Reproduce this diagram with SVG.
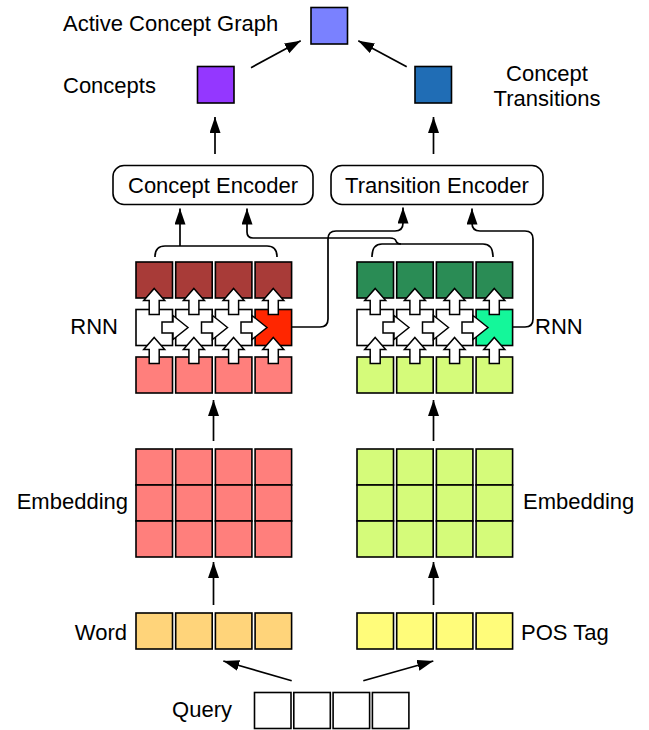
<svg xmlns="http://www.w3.org/2000/svg" xmlns:xlink="http://www.w3.org/1999/xlink" width="649" height="730" viewBox="0 0 649 730">
<style>
text{font-family:"Liberation Sans",Arial,sans-serif;font-size:22px;fill:#000}
.c{stroke:#000;stroke-width:1.6}
.enc{fill:#fff;stroke:#000;stroke-width:1.6}
.ln{fill:none;stroke:#000;stroke-width:1.7}
.blk{fill:#fff;stroke:#000;stroke-width:1.5;stroke-linejoin:miter}
.dr{fill:#A83B38}.sal{fill:#FF7F7C}.red{fill:#FF2600}
.dg{fill:#2A8C55}.lg{fill:#D5FB7A}.sg{fill:#14F79A}
.wd{fill:#FFD47A}.pos{fill:#FFFC7A}.wh{fill:#fff}
.acg{fill:#7A81FF}.cpt{fill:#9437FF}.trn{fill:#206DB5}
</style>
<defs>
<marker id="ah" markerUnits="userSpaceOnUse" markerWidth="17" markerHeight="12" refX="16" refY="5.5" orient="auto">
<path d="M0,0 L16,5.5 L0,11 Z" fill="#000"/>
</marker>
<path id="up" class="blk" d="M0,0 L10.5,12 L5,12 L5,26 L-5,26 L-5,12 L-10.5,12 Z"/>
<path id="rt" class="blk" d="M0,0 L-15,-12 L-15,-5.5 L-26,-5.5 L-26,5.5 L-15,5.5 L-15,12 Z"/>
</defs>

<!-- top outputs -->
<g id="acg"><rect class="c acg" x="311" y="7.5" width="36.5" height="36.5"/><text x="63" y="31">Active Concept Graph</text></g>
<g id="concepts"><rect class="c cpt" x="197.5" y="66.5" width="36.5" height="36.5"/><text x="63" y="93">Concepts</text></g>
<g id="transitions"><rect class="c trn" x="415" y="66.5" width="36.5" height="36.5"/><text x="547" y="81" text-anchor="middle">Concept</text><text x="547" y="106" text-anchor="middle">Transitions</text></g>

<!-- encoders -->
<g id="concept-encoder"><rect class="enc" x="113" y="165.5" width="200" height="39" rx="11"/><text x="213" y="193" text-anchor="middle">Concept Encoder</text></g>
<g id="transition-encoder"><rect class="enc" x="331" y="165.5" width="212" height="39" rx="11"/><text x="437" y="193" text-anchor="middle">Transition Encoder</text></g>

<!-- left RNN -->
<g id="rnn-left">
<rect class="c dr" x="136" y="262" width="36.5" height="36"/>
<rect class="c dr" x="175.7" y="262" width="36.5" height="36"/>
<rect class="c dr" x="215.4" y="262" width="36.5" height="36"/>
<rect class="c dr" x="255.1" y="262" width="36.5" height="36"/>
<rect class="c wh" x="136" y="309.5" width="36.5" height="36"/>
<rect class="c wh" x="175.7" y="309.5" width="36.5" height="36"/>
<rect class="c wh" x="215.4" y="309.5" width="36.5" height="36"/>
<rect class="c red" x="255.1" y="309.5" width="36.5" height="36"/>
<rect class="c sal" x="136" y="357" width="36.5" height="36"/>
<rect class="c sal" x="175.7" y="357" width="36.5" height="36"/>
<rect class="c sal" x="215.4" y="357" width="36.5" height="36"/>
<rect class="c sal" x="255.1" y="357" width="36.5" height="36"/>
<use href="#up" x="154.2" y="288.5"/><use href="#up" x="193.9" y="288.5"/><use href="#up" x="233.6" y="288.5"/><use href="#up" x="273.3" y="288.5"/>
<use href="#up" x="154.2" y="337.5"/><use href="#up" x="193.9" y="337.5"/><use href="#up" x="233.6" y="337.5"/><use href="#up" x="273.3" y="337.5"/>
<use href="#rt" x="188" y="327.5"/><use href="#rt" x="227.5" y="327.5"/><use href="#rt" x="267" y="327.5"/>
<text x="118" y="334" text-anchor="end">RNN</text>
</g>

<!-- right RNN -->
<g id="rnn-right">
<rect class="c dg" x="357" y="262" width="36.5" height="36"/>
<rect class="c dg" x="396.7" y="262" width="36.5" height="36"/>
<rect class="c dg" x="436.4" y="262" width="36.5" height="36"/>
<rect class="c dg" x="476.1" y="262" width="36.5" height="36"/>
<rect class="c wh" x="357" y="309.5" width="36.5" height="36"/>
<rect class="c wh" x="396.7" y="309.5" width="36.5" height="36"/>
<rect class="c wh" x="436.4" y="309.5" width="36.5" height="36"/>
<rect class="c sg" x="476.1" y="309.5" width="36.5" height="36"/>
<rect class="c lg" x="357" y="357" width="36.5" height="36"/>
<rect class="c lg" x="396.7" y="357" width="36.5" height="36"/>
<rect class="c lg" x="436.4" y="357" width="36.5" height="36"/>
<rect class="c lg" x="476.1" y="357" width="36.5" height="36"/>
<use href="#up" x="375.2" y="288.5"/><use href="#up" x="414.9" y="288.5"/><use href="#up" x="454.6" y="288.5"/><use href="#up" x="494.3" y="288.5"/>
<use href="#up" x="375.2" y="337.5"/><use href="#up" x="414.9" y="337.5"/><use href="#up" x="454.6" y="337.5"/><use href="#up" x="494.3" y="337.5"/>
<use href="#rt" x="409" y="327.5"/><use href="#rt" x="448.5" y="327.5"/><use href="#rt" x="488" y="327.5"/>
<text x="535" y="334">RNN</text>
</g>

<!-- embeddings -->
<g id="embedding-left">
<rect class="c sal" x="136" y="449" width="36.5" height="36"/><rect class="c sal" x="175.7" y="449" width="36.5" height="36"/><rect class="c sal" x="215.4" y="449" width="36.5" height="36"/><rect class="c sal" x="255.1" y="449" width="36.5" height="36"/>
<rect class="c sal" x="136" y="485" width="36.5" height="36"/><rect class="c sal" x="175.7" y="485" width="36.5" height="36"/><rect class="c sal" x="215.4" y="485" width="36.5" height="36"/><rect class="c sal" x="255.1" y="485" width="36.5" height="36"/>
<rect class="c sal" x="136" y="521" width="36.5" height="36"/><rect class="c sal" x="175.7" y="521" width="36.5" height="36"/><rect class="c sal" x="215.4" y="521" width="36.5" height="36"/><rect class="c sal" x="255.1" y="521" width="36.5" height="36"/>
<text x="128" y="509" text-anchor="end">Embedding</text>
</g>
<g id="embedding-right">
<rect class="c lg" x="357" y="449" width="36.5" height="36"/><rect class="c lg" x="396.7" y="449" width="36.5" height="36"/><rect class="c lg" x="436.4" y="449" width="36.5" height="36"/><rect class="c lg" x="476.1" y="449" width="36.5" height="36"/>
<rect class="c lg" x="357" y="485" width="36.5" height="36"/><rect class="c lg" x="396.7" y="485" width="36.5" height="36"/><rect class="c lg" x="436.4" y="485" width="36.5" height="36"/><rect class="c lg" x="476.1" y="485" width="36.5" height="36"/>
<rect class="c lg" x="357" y="521" width="36.5" height="36"/><rect class="c lg" x="396.7" y="521" width="36.5" height="36"/><rect class="c lg" x="436.4" y="521" width="36.5" height="36"/><rect class="c lg" x="476.1" y="521" width="36.5" height="36"/>
<text x="523" y="509">Embedding</text>
</g>

<!-- word / pos -->
<g id="word">
<rect class="c wd" x="136" y="613" width="36.5" height="36"/><rect class="c wd" x="175.7" y="613" width="36.5" height="36"/><rect class="c wd" x="215.4" y="613" width="36.5" height="36"/><rect class="c wd" x="255.1" y="613" width="36.5" height="36"/>
<text x="127" y="640" text-anchor="end">Word</text>
</g>
<g id="pos-tag">
<rect class="c pos" x="357" y="613" width="36.5" height="36"/><rect class="c pos" x="396.7" y="613" width="36.5" height="36"/><rect class="c pos" x="436.4" y="613" width="36.5" height="36"/><rect class="c pos" x="476.1" y="613" width="36.5" height="36"/>
<text x="521" y="640">POS Tag</text>
</g>

<!-- query -->
<g id="query">
<rect class="c wh" x="254.5" y="692.5" width="36.5" height="36"/><rect class="c wh" x="293.8" y="692.5" width="36.5" height="36"/><rect class="c wh" x="333.1" y="692.5" width="36.5" height="36"/><rect class="c wh" x="372.4" y="692.5" width="36.5" height="36"/>
<text x="232" y="717" text-anchor="end">Query</text>
</g>

<!-- connectors -->
<g id="connectors" class="ln">
<line x1="291.7" y1="680.7" x2="223.3" y2="661" marker-end="url(#ah)"/>
<line x1="363.3" y1="680.7" x2="433.3" y2="661" marker-end="url(#ah)"/>
<line x1="213.5" y1="605" x2="213.5" y2="562" marker-end="url(#ah)"/>
<line x1="433.5" y1="605" x2="433.5" y2="562" marker-end="url(#ah)"/>
<line x1="213.5" y1="441" x2="213.5" y2="400" marker-end="url(#ah)"/>
<line x1="433.5" y1="441" x2="433.5" y2="400" marker-end="url(#ah)"/>
<path d="M155,257 Q155,246 165,246 L267,246 Q277,246 277,257"/>
<path d="M372,257 Q372,244 382,244 L483,244 Q493,244 493,257"/>
<line x1="180" y1="246" x2="180" y2="208.5" marker-end="url(#ah)"/>
<path d="M401,244 Q397,244 396,241 Q395,238 390,238 L253,238 Q247,238 247,232 L247,208.5" marker-end="url(#ah)"/>
<path d="M292,327 L320,327 Q328,327 328,319 L328,239 Q328,231 336,231 L395,231 Q403,231 403,223 L403,207.5" marker-end="url(#ah)"/>
<path d="M513,327 L525,327 Q533,327 533,319 L533,239 Q533,231 525,231 L480,231 Q472,231 472,223 L472,208.5" marker-end="url(#ah)"/>
<line x1="215" y1="154" x2="215" y2="117" marker-end="url(#ah)"/>
<line x1="433.5" y1="154" x2="433.5" y2="117" marker-end="url(#ah)"/>
<line x1="251" y1="67.7" x2="300.7" y2="40.7" marker-end="url(#ah)"/>
<line x1="406.7" y1="66.7" x2="358.3" y2="40.7" marker-end="url(#ah)"/>
</g>
</svg>
